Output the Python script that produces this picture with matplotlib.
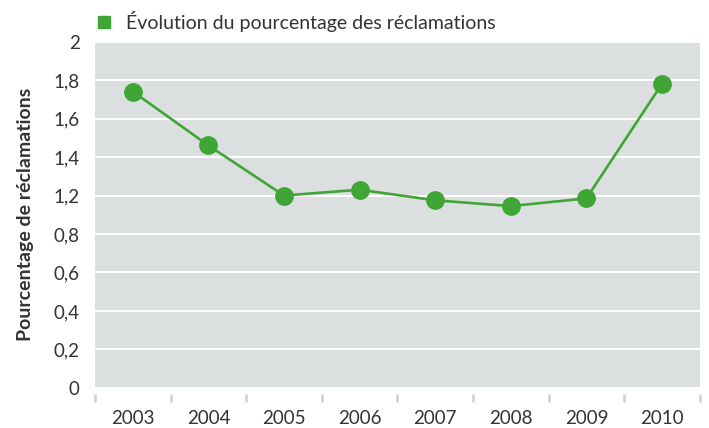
import numpy as np
import matplotlib
matplotlib.use("Agg")
import matplotlib.pyplot as plt

# values
years = ["2003", "2004", "2005", "2006", "2007", "2008", "2009", "2010"]
pct = [1.74, 1.46, 1.20, 1.23, 1.15, 1.09, 1.17, 1.78]
ytick_vals = [0, 0.2, 0.4, 0.6, 0.8, 1.2, 1.4, 1.6, 1.8, 2]
ytick_labels = ["0", "0,2", "0,4", "0,6", "0,8", "1,2", "1,4", "1,6", "1,8", "2"]

GREEN = "#3fa535"
BG = "#dcdfe0"
TXT = "#333333"

plt.rcParams["font.family"] = ["Lato", "DejaVu Sans"]


def fwd(v):
    # the source axis jumps from 0,8 straight to 1,2 in one step
    v = np.asarray(v, dtype=float)
    return np.where(v <= 0.8, v, np.where(v <= 1.2, 0.8 + (v - 0.8) * 0.5, v - 0.2))


def inv(p):
    p = np.asarray(p, dtype=float)
    return np.where(p <= 0.8, p, np.where(p <= 1.0, 0.8 + (p - 0.8) * 2, p + 0.2))


fig = plt.figure(figsize=(7.09, 4.28), dpi=100)
ax = fig.add_axes([0.134, 0.0935, 0.853, 0.8095])
ax.set_facecolor(BG)
ax.set_yscale("function", functions=(fwd, inv))

x = np.arange(len(years))
ax.plot(x, pct, color=GREEN, lw=1.9, marker="o", ms=12.5, zorder=3)

ax.set_xlim(-0.5, len(years) - 0.5)
ax.set_ylim(0, 2)
ax.set_yticks(ytick_vals)
ax.set_yticklabels(ytick_labels)
ax.yaxis.set_minor_locator(plt.NullLocator())
ax.grid(axis="y", color="white", lw=1.5)
ax.set_axisbelow(True)

ax.set_xticks(x)
ax.set_xticklabels(years)
ax.set_xticks(np.arange(len(years) + 1) - 0.5, minor=True)
ax.tick_params(axis="x", which="major", length=0, pad=12, labelsize=13.5, labelcolor=TXT)
ax.tick_params(axis="x", which="minor", length=6, width=2, color="#d2d5d6")
ax.tick_params(axis="y", length=0, pad=11, labelsize=13.5, labelcolor=TXT)

for s in ax.spines.values():
    s.set_visible(False)
ax.spines["bottom"].set_position(("outward", 4))

ax.set_ylabel("Pourcentage de réclamations", fontsize=14, fontweight="bold",
              color=TXT, labelpad=14)

ax.legend(handles=[plt.Line2D([], [], ls="none", marker="s", ms=9, color=GREEN)],
          labels=["Évolution du pourcentage des réclamations"],
          loc="lower left", bbox_to_anchor=(-0.033, 1.0), frameon=False,
          fontsize=14, labelcolor=TXT, handletextpad=0.1, borderaxespad=0.1)

fig.savefig("out.png", dpi=100)
